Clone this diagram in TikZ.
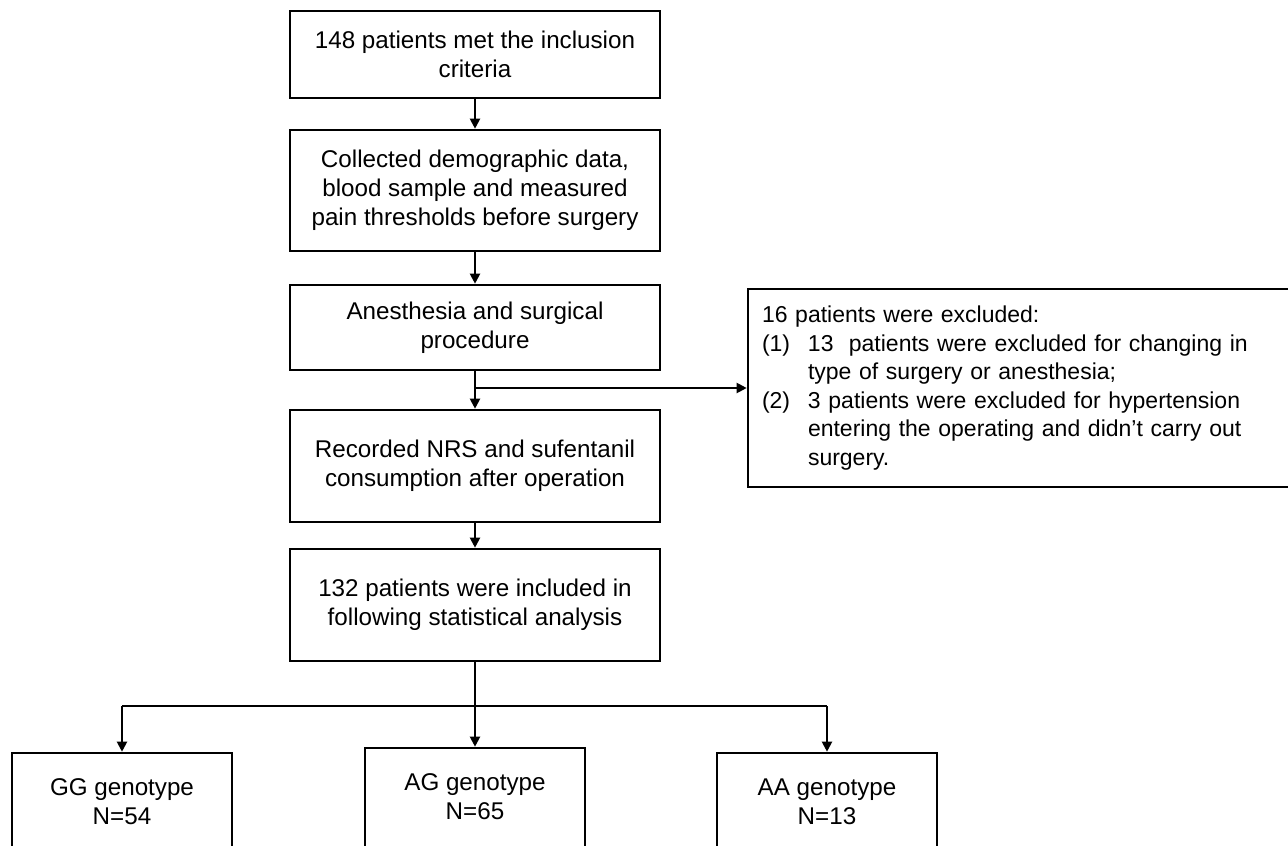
\documentclass[tikz,border=0pt]{standalone}
\usepackage{fontspec}
\setmainfont{Liberation Sans}
\usetikzlibrary{arrows.meta,calc}
\begin{document}
\begin{tikzpicture}[x=1pt,y=-1pt,
  box/.style={draw=black,line width=2.6pt,rectangle,inner sep=0pt,align=center,
    font=\fontsize{24.2}{29}\selectfont},
  txt/.style={inner sep=0pt,align=center,font=\fontsize{24.2}{29}\selectfont},
  arr/.style={line width=2pt,-{Triangle[length=10pt,width=10pt]}},
  ln/.style={line width=2pt}]
\useasboundingbox (0,0) rectangle (1288,846);
\clip (0,0) rectangle (1288,846);
\fill[white] (0,0) rectangle (1288,846);
\node[box,minimum width=370pt,minimum height=87pt] (b1) at (475,54.5)
  {148 patients met the inclusion\\criteria};
\node[box,minimum width=370pt,minimum height=121pt] (b2) at (475,190.5)
  {Collected demographic data,\\blood sample and measured\\pain thresholds before surgery};
\node[box,minimum width=370pt,minimum height=85pt] (b3) at (475,327.5)
  {Anesthesia and surgical\\procedure};
\node[box,minimum width=370pt,minimum height=112pt] (b4) at (475,466)
  {Recorded NRS and sufentanil\\consumption after operation};
\node[box,minimum width=370pt,minimum height=112pt] (b5) at (475,605)
  {132 patients were included in\\following statistical analysis};
\node[box,minimum width=560pt,minimum height=198pt,align=left,text width=532pt,inner xsep=14pt,
  font=\fontsize{23}{28.6}\selectfont] (ex) at (1028,388)
  {16 patients were excluded:\\
   \makebox[46pt][l]{(1)}13\ \ patients were excluded for changing in\\
   \hspace*{46pt}type of surgery or anesthesia;\\
   \makebox[46pt][l]{(2)}3 patients were excluded for hypertension\\
   \hspace*{46pt}entering the operating and didn’t carry out\\
   \hspace*{46pt}surgery.};
\node[box,minimum width=220pt,minimum height=140pt] (gg) at (122,823) {};
\node[box,minimum width=220pt,minimum height=140pt] (ag) at (475,818) {};
\node[box,minimum width=220pt,minimum height=140pt] (aa) at (827,823) {};
\node[txt] (ggt) at (122,802) {GG genotype\\N=54};
\node[txt] (agt) at (475,797) {AG genotype\\N=65};
\node[txt] (aat) at (827,802) {AA genotype\\N=13};
\coordinate (split) at (475,388);
\coordinate (bar) at (475,706);
\draw[arr] (b1) -- (b2);
\draw[arr] (b2) -- (b3);
\draw[arr] (b3) -- (b4);
\draw[arr] (split) -- (ex.west);
\draw[arr] (b4) -- (b5);
\draw[arr] (b5) -- (ag);
\draw[ln] (bar -| gg.north) -- (bar -| aa.north);
\draw[arr] (bar -| gg.north) -- (gg.north);
\draw[arr] (bar -| aa.north) -- (aa.north);
\end{tikzpicture}
\end{document}
